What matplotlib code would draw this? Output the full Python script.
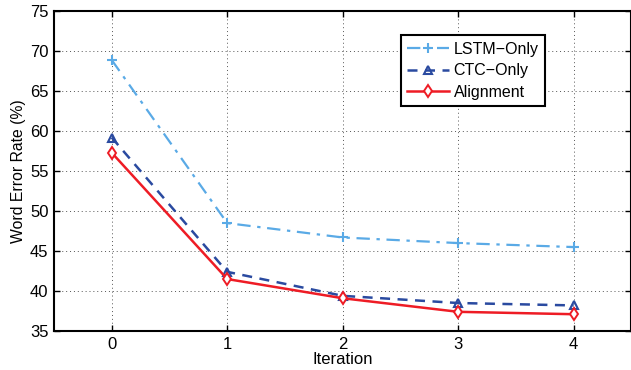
import matplotlib
matplotlib.use("Agg")
import matplotlib.pyplot as plt

iterations = [0, 1, 2, 3, 4]
lstm_only = [68.9, 48.5, 46.7, 46.0, 45.5]
ctc_only = [59.2, 42.4, 39.4, 38.5, 38.2]
alignment = [57.3, 41.5, 39.1, 37.4, 37.1]
y_ticks = [35, 40, 45, 50, 55, 60, 65, 70, 75]

plt.rcParams['font.family'] = ['Liberation Sans', 'DejaVu Sans']

fig = plt.figure(figsize=(6.31, 3.70), dpi=100)
ax = fig.add_axes([0.0856, 0.1054, 0.9150, 0.8641])

ax.plot(iterations, lstm_only, color='#5aaae6', linestyle='-.', linewidth=1.6,
        marker='+', markersize=7, markeredgewidth=1.5, label='LSTM\u2212Only',
        dashes=(6, 3, 1.5, 3))
ax.plot(iterations, ctc_only, color='#2a4aa0', linestyle='--', linewidth=1.8,
        marker='^', markersize=6, markerfacecolor='none', markeredgewidth=1.5,
        label='CTC\u2212Only', dashes=(4, 3))
ax.plot(iterations, alignment, color='#ee1c25', linestyle='-', linewidth=1.8,
        marker='d', markersize=6, markerfacecolor='white', markeredgewidth=1.4,
        label='Alignment')

ax.set_xlim(-0.5, 4.5)
ax.set_ylim(35, 75)
ax.set_xticks(iterations)
ax.set_yticks(y_ticks)
ax.tick_params(direction='in', top=True, right=True, labelsize=12, length=4,
               width=1, pad=4)
for s in ax.spines.values():
    s.set_linewidth(1.5)
ax.grid(True, linestyle=(0, (1, 3)), color='#555555', linewidth=0.7)
ax.set_xlabel('Iteration', fontsize=12, labelpad=0)
ax.set_ylabel('Word Error Rate (%)', fontsize=11.3, labelpad=3)

leg = ax.legend(loc='upper left', bbox_to_anchor=(0.601, 0.925), fontsize=11.5,
                frameon=True, fancybox=False, edgecolor='black', framealpha=1,
                handlelength=2.6, handletextpad=0.3, borderpad=0.4,
                labelspacing=0.42, borderaxespad=0)
leg.get_frame().set_linewidth(1.5)

fig.savefig('out.png', dpi=100)
